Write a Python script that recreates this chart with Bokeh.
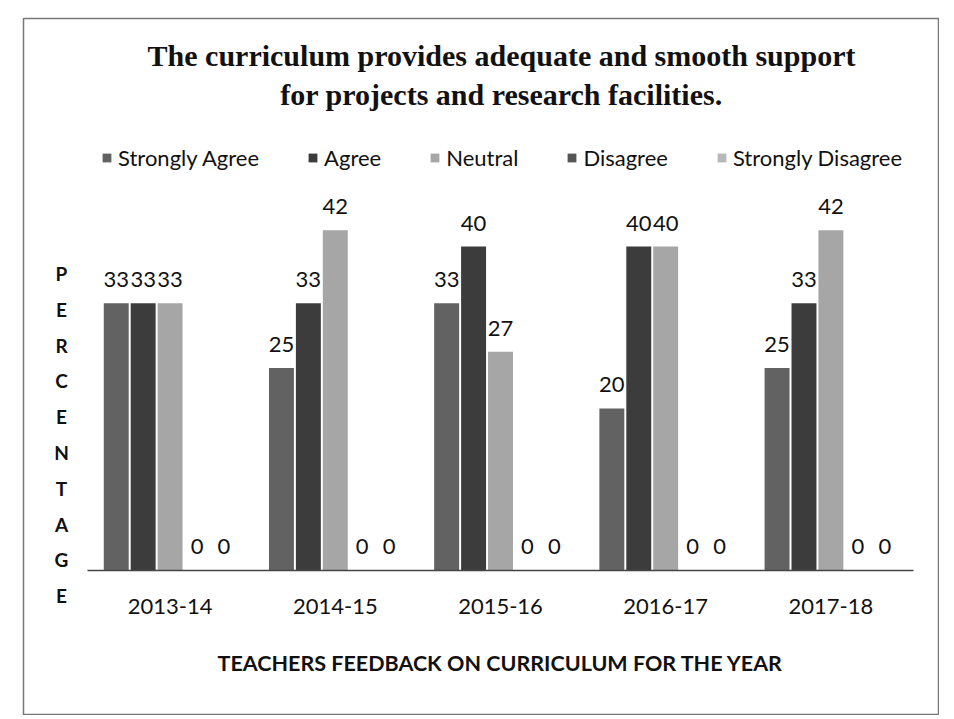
from bokeh.plotting import figure
from bokeh.models import (ColumnDataSource, Range1d, LabelSet, Label, Legend,
                          LegendItem, FixedTicker)
from bokeh.transform import dodge
from bokeh.core.properties import value
from bokeh.embed import file_html
from bokeh.resources import INLINE

# ---- data ----
years = ["2013-14", "2014-15", "2015-16", "2016-17", "2017-18"]
series = ["Strongly Agree", "Agree", "Neutral", "Disagree", "Strongly Disagree"]
strongly_agree = [33, 25, 33, 20, 25]
agree = [33, 33, 40, 40, 33]
neutral = [33, 42, 27, 40, 42]
disagree = [0, 0, 0, 0, 0]
strongly_disagree = [0, 0, 0, 0, 0]
colors = ["#626262", "#3c3c3c", "#a6a6a6", "#555555", "#b8b8b8"]

title_lines = ["The curriculum provides adequate and smooth support",
               "for projects and research facilities."]
x_title = "TEACHERS FEEDBACK ON CURRICULUM FOR THE YEAR"
y_title = "PERCENTAGE"

values = [strongly_agree, agree, neutral, disagree, strongly_disagree]
keys = ["sa", "a", "n", "d", "sd"]

xc = [i + 0.5 for i in range(len(years))]
data = {"year": years, "xc": xc}
for k, v in zip(keys, values):
    data[k] = v
    data[k + "_txt"] = [str(x) for x in v]
source = ColumnDataSource(data)

FONT = "Lato"

p = figure(x_range=Range1d(-0.3874, len(years) + 0.1513), y_range=Range1d(-17.78, 68.15),
           width=917, height=698, output_backend="svg", toolbar_location=None,
           y_axis_location=None, title_location=None, min_border=1)
p.margin = (17, 0, 0, 22)
p.outline_line_color = "#777777"
p.outline_line_width = 1.5
p.background_fill_color = "white"
p.border_fill_color = "white"
p.xgrid.grid_line_color = None
p.ygrid.grid_line_color = None

step = 0.163
bw = 0.151
offsets = [-2 * step, -step, 0, step, 2 * step]

items = []
for k, name, col, off in zip(keys, series, colors, offsets):
    r = p.vbar(x=dodge("xc", off), top=k, width=bw, source=source,
               fill_color=col, line_color=None)
    items.append(LegendItem(label=name, renderers=[r]))
    p.add_layout(LabelSet(x=dodge("xc", off), y=k, text=k + "_txt", source=source,
                          text_align="center", text_baseline="alphabetic",
                          y_offset=16, text_font=value(FONT), text_font_size="22px",
                          text_color="#111111"))

legend = Legend(items=items, orientation="horizontal", location=(78, 543),
                label_text_font=FONT, label_text_font_size="22px",
                label_text_color="#111111", glyph_width=11, glyph_height=11,
                label_standoff=6, spacing=48, padding=0, margin=0,
                border_line_color=None, background_fill_alpha=0)
p.add_layout(legend, "center")

# title (two centred lines)
for i, t in enumerate(title_lines):
    p.add_layout(Label(x=478, y=659 - i * 39, x_units="screen", y_units="screen",
                       text=t, text_align="center", text_baseline="alphabetic",
                       text_font="Liberation Serif", text_font_style="bold",
                       text_font_size="30px", text_color="#111111"))

# vertical stacked y title
for i, ch in enumerate(y_title):
    p.add_layout(Label(x=38, y=441 - i * 35.8, x_units="screen", y_units="screen",
                       text=ch, text_align="center", text_baseline="middle",
                       text_font=FONT, text_font_style="bold",
                       text_font_size="19px", text_color="#111111"))

ax = p.xaxis[0]
ax.fixed_location = 0
ax.bounds = (0, len(years))
ax.ticker = FixedTicker(ticks=xc)
ax.major_label_overrides = {x: y for x, y in zip(xc, years)}
ax.axis_line_color = "#444444"
ax.axis_line_width = 1.5
ax.major_tick_line_color = None
ax.minor_tick_line_color = None
ax.major_tick_in = 0
ax.major_tick_out = 0
ax.major_label_standoff = 29
ax.major_label_text_font = FONT
ax.major_label_text_font_size = "22px"
ax.major_label_text_color = "#111111"
ax.axis_label = x_title
ax.axis_label_text_font = FONT
ax.axis_label_text_font_style = "bold"
ax.axis_label_text_font_size = "21.5px"
ax.axis_label_text_color = "#111111"
ax.axis_label_standoff = 32

open("out.html", "w").write(file_html(p, INLINE))
